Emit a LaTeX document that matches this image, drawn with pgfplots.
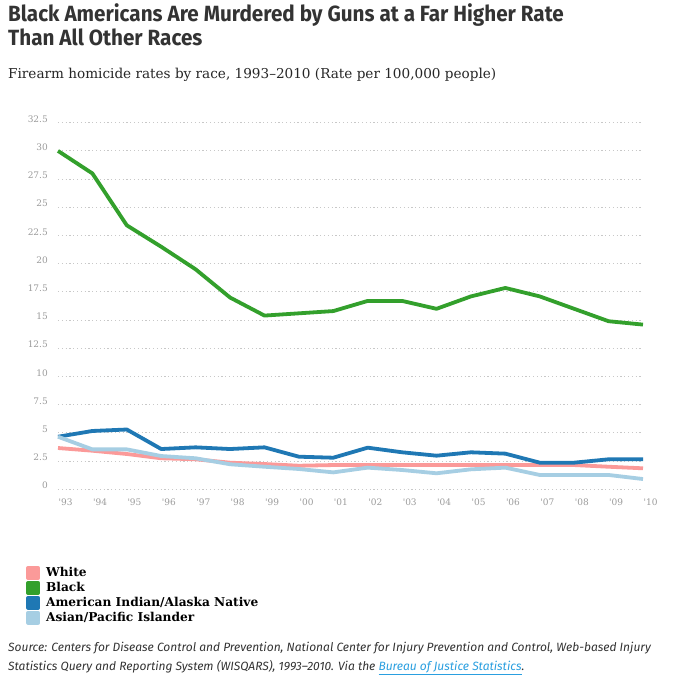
\documentclass[border=0pt]{standalone}
\usepackage{fontspec}
\usepackage{pgfplots}
\usepackage{pgfplotstable}
\pgfplotsset{compat=1.18}

\setmainfont{DejaVu Serif}
\newfontfamily\titlefont[FakeStretch=0.94]{Fira Sans}
\newfontfamily\tickfont{DejaVu Serif}
\newfontfamily\legendfont{DejaVu Serif}
\newfontfamily\notefont{Fira Sans}

\definecolor{cWhite}{HTML}{FB9A99}
\definecolor{cBlack}{HTML}{33A02C}
\definecolor{cAIAN}{HTML}{1F78B4}
\definecolor{cAPI}{HTML}{A6CEE3}
\definecolor{titlegray}{HTML}{333333}
\definecolor{tickgray}{HTML}{9B9B9B}
\definecolor{gridgray}{HTML}{C8C8C8}
\definecolor{linkblue}{HTML}{2A9FE0}

% Firearm homicide rates per 100,000 people
\pgfplotstableread{
year  white black aian  api
1993  3.66  30.0  4.66  4.66
1994  3.42  28.0  5.17  3.54
1995  3.13  23.4  5.30  3.54
1996  2.75  21.5  3.57  2.95
1997  2.66  19.5  3.72  2.75
1998  2.36  17.0  3.57  2.22
1999  2.24  15.4  3.72  2.00
2000  2.09  15.6  2.89  1.80
2001  2.15  15.8  2.80  1.50
2002  2.15  16.7  3.69  1.92
2003  2.15  16.7  3.28  1.71
2004  2.15  16.0  2.98  1.42
2005  2.15  17.1  3.28  1.77
2006  2.15  17.85 3.16  1.92
2007  2.15  17.1  2.36  1.27
2008  2.15  16.0  2.36  1.27
2009  2.00  14.9  2.66  1.27
2010  1.86  14.6  2.66  0.91
}\rates

\begin{document}
\begin{tikzpicture}
\path[use as bounding box, fill=white] (0,0) rectangle (687bp,682bp);

% title and subtitle
\node[anchor=base west, inner sep=0pt, text=titlegray,
      font=\titlefont\bfseries\fontsize{22bp}{24bp}\selectfont] at (8bp,{682bp-22bp})
  {Black Americans Are Murdered by Guns at a Far Higher Rate};
\node[anchor=base west, inner sep=0pt, text=titlegray,
      font=\titlefont\bfseries\fontsize{22bp}{24bp}\selectfont] at (8bp,{682bp-46bp})
  {Than All Other Races};
\node[anchor=base west, inner sep=0pt, text=black!85,
      font=\fontsize{13.6bp}{16bp}\selectfont] at (8bp,{682bp-78.5bp})
  {Firearm homicide rates by race, 1993–2010 (Rate per 100,000 people)};

\begin{axis}[
  at={(58bp,192.7bp)}, anchor=south west,
  scale only axis, width=585bp, height=366.6bp,
  xmin=1993, xmax=2010, ymin=0, ymax=32.5,
  axis line style={draw=none},
  major tick length=0pt,
  xtick={1993,...,2010},
  xticklabels={{\char"27 93},{\char"27 94},{\char"27 95},{\char"27 96},{\char"27 97},{\char"27 98},{\char"27 99},{\char"27 00},{\char"27 01},{\char"27 02},{\char"27 03},{\char"27 04},{\char"27 05},{\char"27 06},{\char"27 07},{\char"27 08},{\char"27 09},{\char"27 10}},
  ytick={0,2.5,...,32.5},
  /pgf/number format/assume math mode=true,
  /pgf/number format/fixed,
  ticklabel style={font=\tickfont\fontsize{9bp}{10bp}\selectfont, text=tickgray, inner sep=0pt},
  yticklabel style={anchor=east, xshift=-10bp, yshift=3.6bp},
  xticklabel style={anchor=north west, xshift=0.5bp, yshift=-9.5bp},
  ymajorgrids,
  grid style={gridgray, line width=0.8bp, dash pattern=on 1.2bp off 2.6bp},
  clip=false,
  legend cell align=left,
  legend image code/.code={\fill[#1] (0bp,-4bp) rectangle (10bp,6bp);},
  legend style={
    at={(axis description cs:-0.0546,-0.209)}, anchor=north west,
    draw=none, fill=none, inner sep=0pt, row sep=0pt,
    font=\legendfont\bfseries\fontsize{12.2bp}{14bp}\selectfont,
    nodes={inner sep=0pt, text height=9.5bp, text depth=4.5bp},
    /tikz/every odd column/.append style={column sep=6bp},
  },
  every axis plot/.append style={line width=3.8bp, line join=round},
]
\addplot[color=cWhite] table[x=year, y=white] {\rates};
\addlegendentry{White}
\addplot[color=cBlack] table[x=year, y=black] {\rates};
\addlegendentry{Black}
\addplot[color=cAIAN] table[x=year, y=aian] {\rates};
\addlegendentry{American Indian/Alaska Native}
\addplot[color=cAPI] table[x=year, y=api] {\rates};
\addlegendentry{Asian/Pacific Islander}
\end{axis}

% source note
\node[anchor=base west, inner sep=0pt, text=titlegray,
      font=\notefont\itshape\fontsize{12bp}{14bp}\selectfont] at (8bp,{682bp-651.7bp})
  {Source: Centers for Disease Control and Prevention, National Center for Injury Prevention and Control, Web-based Injury};
\node[anchor=base west, inner sep=0pt, text=titlegray,
      font=\notefont\itshape\fontsize{12bp}{14bp}\selectfont] at (8bp,{682bp-670.7bp})
  {Statistics Query and Reporting System (WISQARS), 1993–2010. Via the \textcolor{linkblue}{\underline{Bureau of Justice Statistics}}.};
\end{tikzpicture}
\end{document}
